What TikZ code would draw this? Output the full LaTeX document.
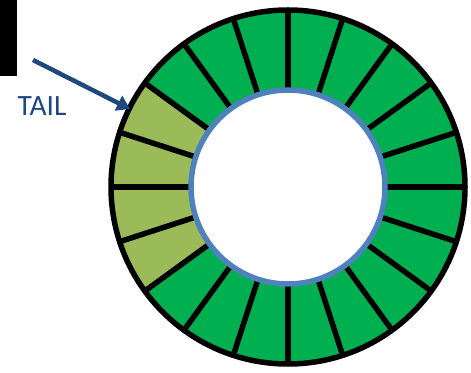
\documentclass[tikz,border=0pt]{standalone}
\usepackage{fontspec}
\setmainfont{Carlito}
\usetikzlibrary{arrows.meta,calc}
\definecolor{brightgreen}{HTML}{00B050}
\definecolor{oldgreen}{HTML}{9BBB59}
\definecolor{ringblue}{HTML}{4F81BD}
\definecolor{darkblue}{HTML}{1F497D}
\tikzset{
  pointer/.style={draw=darkblue, line width=4.5pt, -{Triangle[length=13pt,width=16pt]}},
  label/.style={text=darkblue, font=\fontsize{29.5}{31}\selectfont, inner sep=0pt},
}
\begin{document}
\begin{tikzpicture}[x=1pt,y=1pt]
\useasboundingbox (0,0) rectangle (471,372);
\fill[black] (0,296) rectangle (17,372);
\coordinate (c) at (288,185);
\foreach \a in {0,18,...,342}{
  \pgfmathsetmacro{\col}{(\a>=144 && \a<216) ? 1 : 0}
  \ifdim\col pt>0.5pt
    \def\fc{oldgreen}
  \else
    \def\fc{brightgreen}
  \fi
  \fill[\fc] ($(c)+(\a:97)$) -- ($(c)+(\a:177)$) arc[start angle=\a, end angle=\a+18, radius=177] -- ($(c)+(\a+18:97)$) -- cycle;
}
\foreach \a in {0,18,...,342}{
  \draw[line width=5.5pt] ($(c)+(\a:96)$) -- ($(c)+(\a:177)$);
}
\draw[line width=5.5pt] (c) circle[radius=177];
\draw[ringblue, line width=5.5pt, fill=white] (c) circle[radius=97];
\node[label] (tail) at (42,266) {TAIL};
\coordinate (from) at (33,312);
\coordinate (to) at (130,263);
\draw[pointer] (from) -- (to);
\end{tikzpicture}
\end{document}
